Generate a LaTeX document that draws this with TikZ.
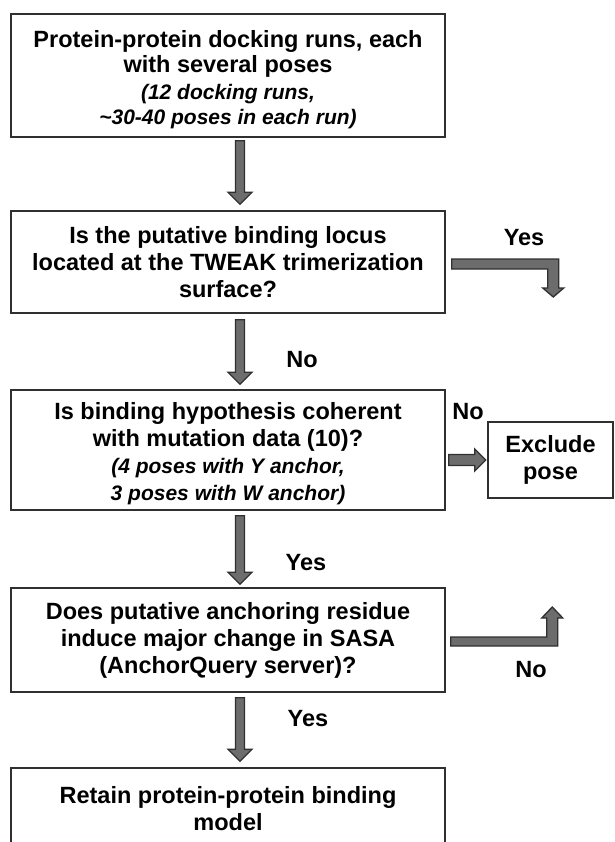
\documentclass[tikz,border=0pt]{standalone}
\usepackage{fontspec}
\setmainfont{Liberation Sans}
\usetikzlibrary{calc}
\definecolor{edge}{HTML}{303030}
\definecolor{arrfill}{HTML}{6C6C6C}
\tikzset{
  box/.style={draw=edge, line width=1.5pt, fill=white, minimum width=434pt, align=center, inner sep=2pt,
    font=\fontsize{23.5}{27}\selectfont\bfseries},
  txt/.style={align=center, inner sep=0pt, font=\fontsize{23.5}{27}\selectfont\bfseries},
  blk/.style={draw=edge, fill=arrfill, line width=1.3pt, line join=miter},
  lbl/.style={font=\fontsize{23.5}{27}\selectfont\bfseries, inner sep=0pt},
}
\newcommand{\itl}[1]{{\fontsize{21}{25}\selectfont\itshape #1}}
% vertical block arrow from #1 (top of shaft) to #2 (tip)
\newcommand{\vdown}[2]{\draw[blk] let \p1=(#1), \p2=(#2) in
  (\x1-4.5pt,\y1) -- (\x1+4.5pt,\y1) -- (\x1+4.5pt,\y2+12pt) -- (\x1+12pt,\y2+12pt) --
  (\x1,\y2) -- (\x1-12pt,\y2+12pt) -- (\x1-4.5pt,\y2+12pt) -- cycle;}
\begin{document}
\begin{tikzpicture}[x=1pt,y=-1pt]
\useasboundingbox (0,0) rectangle (614,842);
\clip (0,0) rectangle (614,842);
\fill[white] (0,0) rectangle (614,842);

\node[box, minimum height=123pt] (b1) at (228,75.5) {};
\node[txt, font=\fontsize{23.5}{24.5}\selectfont\bfseries] (b1t) at ($(b1.center)+(0,4)$)
  {Protein-protein docking runs, each\\with several poses\\[3pt]\itl{(12 docking runs,}\\\itl{\textasciitilde 30-40 poses in each run)}};
\node[box, minimum height=102pt] (b2) at (228,262)
  {Is the putative binding locus\\located at the TWEAK trimerization\\surface?};
\node[box, minimum height=120pt] (b3) at (228,450) {};
\node[txt] (b3t) at ($(b3.center)+(0,3.5)$)
  {Is binding hypothesis coherent\\with mutation data (10)?\\\itl{(4 poses with Y anchor,}\\\itl{3 poses with W anchor)}};
\node[box, minimum height=104pt] (b4) at (228,640)
  {Does putative anchoring residue\\induce major change in SASA\\(AnchorQuery server)?};
\node[box, minimum height=82pt] (b5) at (228,809)
  {Retain protein-protein binding\\model};
\node[box, minimum width=125pt, minimum height=76pt] (ex) at (550.5,460)
  {Exclude\\pose};

% vertical arrows
\coordinate (s1) at ($(b1.south)+(12,3)$); \coordinate (t1) at ($(b2.north)+(12,-6)$);
\vdown{s1}{t1}
\coordinate (s2) at ($(b2.south)+(12,6)$); \coordinate (t2) at ($(b3.north)+(12,-5)$);
\vdown{s2}{t2}
\coordinate (s3) at ($(b3.south)+(12,5)$); \coordinate (t3) at ($(b4.north)+(12,-3)$);
\vdown{s3}{t3}
\coordinate (s4) at ($(b4.south)+(12,5)$); \coordinate (t4) at ($(b5.north)+(12,-6)$);
\vdown{s4}{t4}

% Yes elbow arrow (from b2, turning down)
\coordinate (ys) at ($(b2.east)+(6,2)$);
\coordinate (ye) at ($(b2.east)+(107.5,35)$);
\draw[blk] let \p1=(ys), \p2=(ye) in
  (\x1,\y1+5pt) -- (\x2+5.5pt,\y1+5pt) -- (\x2+5.5pt,\y2+9pt) -- (\x2+10.5pt,\y2+9pt) --
  (\x2,\y2) -- (\x2-10.5pt,\y2+9pt) -- (\x2-5.5pt,\y2+9pt) -- (\x2-5.5pt,\y1-5pt) -- (\x1,\y1-5pt) -- cycle;

% No elbow arrow (from b4, turning up)
\coordinate (ns) at ($(b4.east)+(5,1.5)$);
\coordinate (ne) at ($(b4.east)+(106.5,-33)$);
\draw[blk] let \p1=(ns), \p2=(ne) in
  (\x1,\y1-4.5pt) -- (\x2+5.5pt,\y1-4.5pt) -- (\x2+5.5pt,\y2-11pt) -- (\x2+10.5pt,\y2-11pt) --
  (\x2,\y2) -- (\x2-10.5pt,\y2-11pt) -- (\x2-5.5pt,\y2-11pt) -- (\x2-5.5pt,\y1+4.5pt) -- (\x1,\y1+4.5pt) -- cycle;

% No arrow to Exclude pose
\coordinate (es) at ($(b3.east)+(3,10)$);
\coordinate (ee) at ($(ex.west)+(-1.5,0)$);
\draw[blk] let \p1=(es), \p2=(ee) in
  (\x1,\y1+5.5pt) -- (\x2-11pt,\y1+5.5pt) -- (\x2-11pt,\y1+11pt) -- (\x2,\y1) --
  (\x2-11pt,\y1-11pt) -- (\x2-11pt,\y1-5.5pt) -- (\x1,\y1-5.5pt) -- cycle;

% labels
\node[lbl] (lyes1) at (524,238) {Yes};
\node[lbl] (lno1) at (302,360) {No};
\node[lbl] (lno2) at (468,412) {No};
\node[lbl] (lyes2) at (306,563) {Yes};
\node[lbl] (lno3) at (531,670) {No};
\node[lbl] (lyes3) at (308,719) {Yes};
\end{tikzpicture}
\end{document}
